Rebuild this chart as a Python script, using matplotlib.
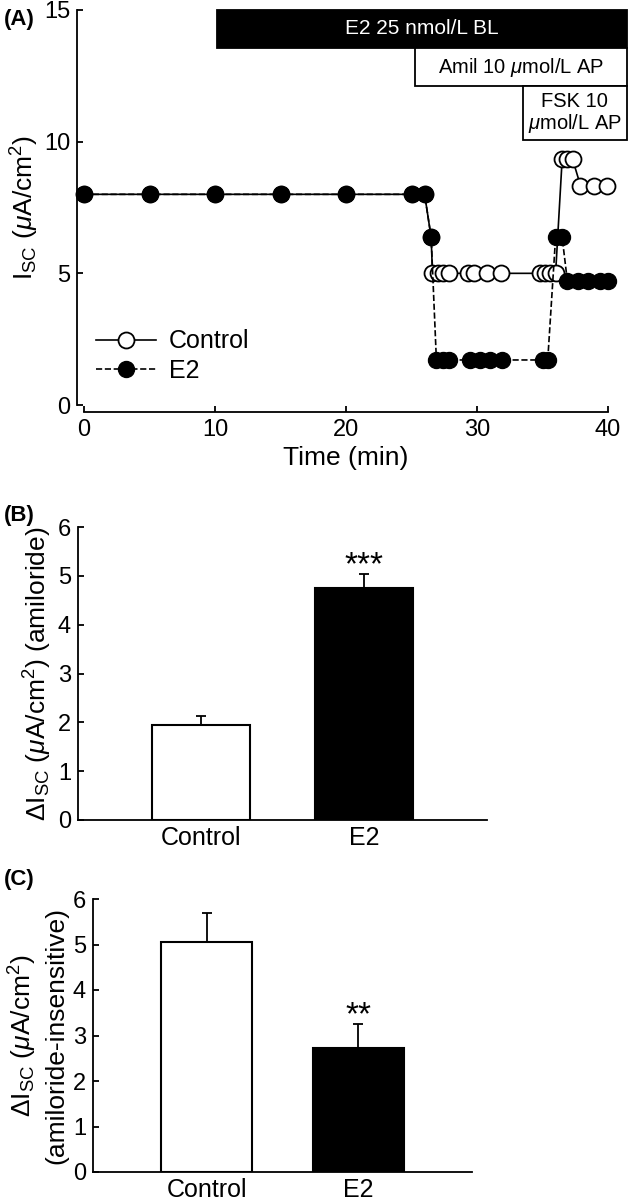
import matplotlib
matplotlib.use("Agg")
import matplotlib.pyplot as plt
from matplotlib.patches import Rectangle

plt.rcParams['font.family'] = ['Liberation Sans', 'DejaVu Sans']
plt.rcParams['mathtext.fontset'] = 'custom'
plt.rcParams['mathtext.rm'] = 'Liberation Sans'
plt.rcParams['mathtext.it'] = 'Liberation Sans:italic'
plt.rcParams['axes.linewidth'] = 1.3

# panel A: time course of Isc
time_ctrl = [0, 5, 10, 15, 20, 25, 26, 26.5, 26.6, 27.0, 27.4, 27.9, 29.3, 29.8, 30.8, 31.8,
             34.8, 35.2, 35.6, 36.0, 36.5, 36.9, 37.3, 37.9, 38.9, 39.9]
isc_ctrl = [8.0, 8.0, 8.0, 8.0, 8.0, 8.0, 8.0, 6.37, 5.0, 5.0, 5.0, 5.0, 5.0, 5.0, 5.0, 5.0,
            5.0, 5.0, 5.0, 5.0, 9.33, 9.33, 9.33, 8.33, 8.33, 8.33]
time_e2 = [0, 5, 10, 15, 20, 25, 26, 26.5, 26.9, 27.4, 27.9, 29.5, 30.2, 31.0, 31.9,
           35.0, 35.4, 36.0, 36.5, 36.9, 37.7, 38.5, 39.4, 40.0]
isc_e2 = [8.0, 8.0, 8.0, 8.0, 8.0, 8.0, 8.0, 6.37, 1.71, 1.71, 1.71, 1.71, 1.71, 1.71, 1.71,
          1.71, 1.71, 6.37, 6.37, 4.7, 4.7, 4.7, 4.7, 4.7]

# panels B and C: bar means and SEM
groups = ['Control', 'E2']
amil_mean = [1.95, 4.75]
amil_err = [0.18, 0.28]
insens_mean = [5.05, 2.72]
insens_err = [0.64, 0.53]

fig = plt.figure(figsize=(6.31, 12.0), dpi=100)

TICK = 17
LAB = 19

# ---------- (A) ----------
axA = fig.add_axes([84/631, 1-405/1200, (608-84)/631, (405-10)/1200])
axA.plot(time_ctrl, isc_ctrl, '-', color='black', lw=1.2, marker='o', ms=11.5,
         mfc='white', mec='black', mew=1.3, clip_on=False, label='Control', zorder=3)
axA.plot(time_e2, isc_e2, '--', color='black', lw=1.2, marker='o', ms=11.5,
         mfc='black', mec='black', clip_on=False, label='E2', zorder=4)
axA.set_xlim(0, 40)
axA.set_ylim(0, 15)
axA.set_xticks([0, 10, 20, 30, 40])
axA.set_yticks([0, 5, 10, 15])
axA.spines['top'].set_visible(False)
axA.spines['right'].set_visible(False)
axA.spines['left'].set_position(('outward', 5))
axA.spines['bottom'].set_position(('outward', 5))
axA.tick_params(direction='in', length=4, width=1.3, labelsize=TICK, pad=5)
axA.set_xlabel('Time (min)', fontsize=LAB, labelpad=4)
axA.set_ylabel(r'I$_{\rm SC}$ ($\mu$A/cm$^2$)', fontsize=LAB, labelpad=2)
axA.legend(loc='lower left', bbox_to_anchor=(-0.02, 0.0), frameon=False, fontsize=18,
           handlelength=2.4, labelspacing=0.2, handletextpad=0.5)

# treatment bars
axA.add_patch(Rectangle((10.15, 13.55), 31.3, 1.45, facecolor='black', edgecolor='black',
                        lw=1.3, clip_on=False))
axA.text(10.15 + 31.3/2, 14.28, 'E2 25 nmol/L BL', color='white', fontsize=15,
         ha='center', va='center')
axA.add_patch(Rectangle((25.3, 12.1), 16.15, 1.45, facecolor='white', edgecolor='black',
                        lw=1.3, clip_on=False))
axA.text(25.3 + 16.15/2, 12.83, r'Amil 10 $\mu$mol/L AP', fontsize=14.5,
         ha='center', va='center')
axA.add_patch(Rectangle((33.5, 10.07), 7.95, 2.03, facecolor='white', edgecolor='black',
                        lw=1.3, clip_on=False))
axA.text(33.5 + 7.95/2, 11.08, 'FSK 10\n$\\mu$mol/L AP', fontsize=14.5, ha='center',
         va='center', linespacing=1.05)
fig.text(4/631, 1-20/1200, '(A)', fontsize=16, fontweight='bold', va='center')


def bar_panel(ax, means, errs, star):
    ax.bar([0, 1], means, width=0.6, color=['white', 'black'], edgecolor='black', lw=1.5,
           yerr=[[0, 0], errs], capsize=3.8, error_kw=dict(elinewidth=1.3, capthick=1.3))
    ax.text(1, means[1] + errs[1] + 0.18, star, ha='center', va='center', fontsize=24)
    ax.set_xlim(-0.75, 1.75)
    ax.set_ylim(0, 6)
    ax.set_yticks([0, 1, 2, 3, 4, 5, 6])
    ax.set_xticks([0, 1])
    ax.set_xticklabels(groups)
    ax.spines['top'].set_visible(False)
    ax.spines['right'].set_visible(False)
    ax.tick_params(axis='y', direction='in', length=4, width=1.3, labelsize=TICK, pad=5)
    ax.tick_params(axis='x', length=0, labelsize=18, pad=4)


# ---------- (B) ----------
axB = fig.add_axes([78/631, 1-820/1200, (487-78)/631, (820-527)/1200])
bar_panel(axB, amil_mean, amil_err, '***')
axB.set_ylabel(r'$\Delta$I$_{\rm SC}$ ($\mu$A/cm$^2$) (amiloride)', fontsize=LAB, labelpad=3)
fig.text(4/631, 1-515/1200, '(B)', fontsize=16, fontweight='bold', va='center')

# ---------- (C) ----------
axC = fig.add_axes([93/631, 1-1172/1200, (472-93)/631, (1172-899)/1200])
bar_panel(axC, insens_mean, insens_err, '**')
axC.set_ylabel('$\\Delta$I$_{\\rm SC}$ ($\\mu$A/cm$^2$)\n(amiloride-insensitive)',
               fontsize=LAB, labelpad=3, linespacing=1.3)
fig.text(4/631, 1-880/1200, '(C)', fontsize=16, fontweight='bold', va='center')

fig.savefig('out.png', dpi=100)
